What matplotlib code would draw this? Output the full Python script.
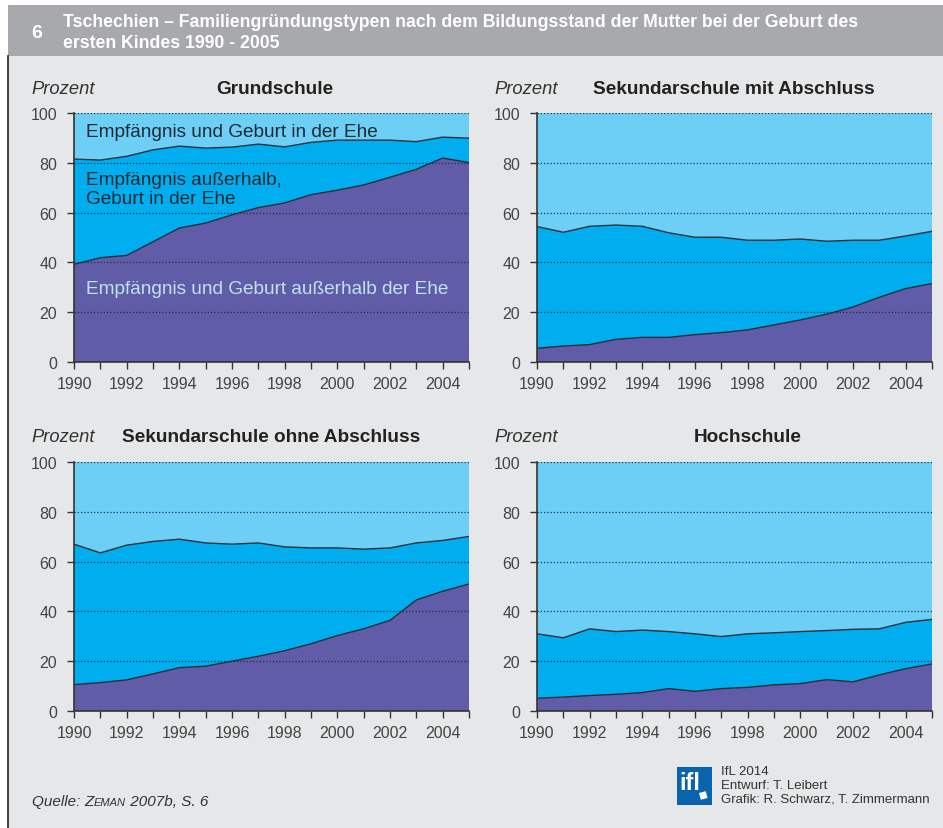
import matplotlib.pyplot as plt
import numpy as np
from matplotlib.patches import Rectangle

# Jahre
years = np.arange(1990, 2006)

# Anteile in Prozent: lila = Empfängnis und Geburt außerhalb der Ehe,
# mittelblau = Empfängnis außerhalb, Geburt in der Ehe, hellblau = in der Ehe
grund_aus = [39.2, 41.9, 42.8, 48.3, 53.8, 55.8, 59.1, 62.0, 63.9, 67.2, 69.0, 71.1, 74.2, 77.4, 81.9, 80.1]
grund_mit = [42.3, 39.2, 39.8, 36.9, 32.9, 30.1, 27.2, 25.5, 22.5, 21.0, 20.1, 18.0, 14.9, 11.1, 8.4, 9.8]
grund_ehe = [18.5, 18.9, 17.4, 14.8, 13.3, 14.1, 13.7, 12.5, 13.6, 11.8, 10.9, 10.9, 10.9, 11.5, 9.7, 10.1]

sekmit_aus = [5.5, 6.4, 7.0, 9.1, 9.9, 9.9, 11.0, 11.8, 12.9, 14.9, 16.9, 19.2, 22.1, 26.0, 29.5, 31.5]
sekmit_mit = [48.9, 45.7, 47.5, 45.9, 44.6, 42.0, 39.1, 38.3, 36.0, 34.0, 32.5, 29.3, 26.8, 22.9, 21.1, 21.0]
sekmit_ehe = [45.6, 47.9, 45.5, 45.0, 45.5, 48.1, 49.9, 49.9, 51.1, 51.1, 50.6, 51.5, 51.1, 51.1, 49.4, 47.5]

sekohne_aus = [10.6, 11.4, 12.5, 14.9, 17.4, 18.0, 20.0, 22.0, 24.2, 27.0, 30.3, 33.0, 36.4, 44.6, 48.1, 51.0]
sekohne_mit = [56.4, 52.1, 54.1, 53.2, 51.6, 49.5, 47.0, 45.5, 41.7, 38.5, 35.2, 32.0, 29.1, 22.9, 20.4, 19.1]
sekohne_ehe = [33.0, 36.5, 33.4, 31.9, 31.0, 32.5, 33.0, 32.5, 34.1, 34.5, 34.5, 35.0, 34.5, 32.5, 31.5, 29.9]

hoch_aus = [5.1, 5.6, 6.2, 6.7, 7.4, 9.0, 7.9, 9.0, 9.5, 10.5, 11.0, 12.6, 11.7, 14.5, 17.0, 18.9]
hoch_mit = [25.9, 23.8, 26.8, 25.2, 25.1, 22.9, 23.1, 20.9, 21.5, 20.9, 20.9, 19.7, 21.1, 18.5, 18.6, 17.9]
hoch_ehe = [69.0, 70.6, 67.0, 68.1, 67.5, 68.1, 69.0, 70.1, 69.0, 68.6, 68.1, 67.7, 67.2, 67.0, 64.4, 63.2]

titles = ["Grundschule", "Sekundarschule mit Abschluss",
          "Sekundarschule ohne Abschluss", "Hochschule"]
data = [(grund_aus, grund_mit, grund_ehe),
        (sekmit_aus, sekmit_mit, sekmit_ehe),
        (sekohne_aus, sekohne_mit, sekohne_ehe),
        (hoch_aus, hoch_mit, hoch_ehe)]

W, H = 943, 829
c_lila = "#605ca8"
c_mittel = "#00aeef"
c_hell = "#6dcff6"
c_bg = "#e6e7e8"
c_txt = "#333333"
sans = ["Liberation Sans", "DejaVu Sans"]

fig = plt.figure(figsize=(W / 100, H / 100), dpi=100)

# Hintergrund in Pixelkoordinaten
bg = fig.add_axes([0, 0, 1, 1])
bg.set_xlim(0, W)
bg.set_ylim(H, 0)
bg.axis("off")
bg.add_patch(Rectangle((8, 6), W - 8, 51, color="#a7a9ac", lw=0))
bg.add_patch(Rectangle((8, 57), W - 8, H - 57, color=c_bg, lw=0))
bg.plot([8, 8], [57, H], color="#222222", lw=1.2)

bg.text(37, 33, "6", color="white", fontsize=14, fontweight="bold",
        family=sans, ha="center", va="center")
bg.text(63, 22, "Tschechien – Familiengründungstypen nach dem Bildungsstand der Mutter bei der Geburt des",
        color="white", fontsize=12.7, fontweight="bold", family=sans, va="center")
bg.text(63, 43, "ersten Kindes 1990 - 2005",
        color="white", fontsize=12.7, fontweight="bold", family=sans, va="center")

# Achsen-Positionen in Pixeln: (links, rechts, oben, unten)
boxes = [(74, 469, 114, 363), (537, 932, 114, 363),
         (74, 469, 463, 712), (537, 932, 463, 712)]
title_pos = [(275, 89), (734, 89), (271, 438), (748, 438)]
prozent_pos = [(31, 89), (494, 89), (31, 438), (494, 438)]

for i, (l, r, t, b) in enumerate(boxes):
    ax = fig.add_axes([l / W, 1 - b / H, (r - l) / W, (b - t) / H])
    aus, mit, ehe = data[i]
    ax.stackplot(years, aus, mit, ehe, colors=[c_lila, c_mittel, c_hell], lw=0)
    aus = np.array(aus)
    ax.plot(years, aus, color="#2a2f3a", lw=1)
    ax.plot(years, aus + np.array(mit), color="#2a2f3a", lw=1)

    ax.set_xlim(1990, 2005)
    ax.set_ylim(0, 100)
    ax.set_facecolor("none")
    ax.set_xticks(np.arange(1990, 2005, 2))
    ax.set_xticks(np.arange(1990, 2006, 1), minor=True)
    ax.set_yticks(np.arange(0, 101, 20))
    ax.set_axisbelow(False)
    ax.grid(axis="y", color="#1f3348", lw=0.9, linestyle=(0, (1, 1.6)))
    for s in ["top", "right"]:
        ax.spines[s].set_visible(False)
    for s in ["left", "bottom"]:
        ax.spines[s].set_color(c_txt)
        ax.spines[s].set_linewidth(1.2)
        ax.spines[s].set_zorder(3)
    ax.tick_params(axis="both", which="both", direction="out", length=5,
                   width=1, color=c_txt, labelcolor="#444444", labelsize=11.5)
    ax.tick_params(axis="y", pad=7)
    ax.tick_params(axis="x", pad=5)
    for lab in ax.get_xticklabels() + ax.get_yticklabels():
        lab.set_family(sans)

    tx, ty = title_pos[i]
    bg.text(tx, ty, titles[i], fontsize=13.7, fontweight="bold", color="#222222",
            family=sans, ha="center", va="center")
    px, py = prozent_pos[i]
    bg.text(px, py, "Prozent", fontsize=13.2, style="italic", color="#333333",
            family=sans, va="center")

# Ebene über den Diagrammen für die Flächenbeschriftung
fg = fig.add_axes([0, 0, 1, 1])
fg.set_xlim(0, W)
fg.set_ylim(H, 0)
fg.axis("off")
fg.text(86, 132, "Empfängnis und Geburt in der Ehe", fontsize=13.7,
        color="#1e2a33", family=sans, va="center")
fg.text(86, 180, "Empfängnis außerhalb,", fontsize=13.7,
        color="#1e2a33", family=sans, va="center")
fg.text(86, 199, "Geburt in der Ehe", fontsize=13.7,
        color="#1e2a33", family=sans, va="center")
fg.text(86, 289, "Empfängnis und Geburt außerhalb der Ehe", fontsize=13.7,
        color="#bfe4f8", family=sans, va="center")

# Quelle, Zeman in Kapitälchen
t1 = fg.text(32, 806, "Quelle: ", fontsize=11, style="italic", color="#333333",
             family=sans, va="baseline")
t2 = fg.annotate("Z", xy=(1, 0), xycoords=t1, fontsize=11, style="italic",
                 color="#333333", family=sans, va="bottom")
t3 = fg.annotate("EMAN", xy=(1, 0), xycoords=t2, fontsize=8, style="italic",
                 color="#333333", family=sans, va="bottom", xytext=(0, 0.6),
                 textcoords="offset points")
fg.annotate(" 2007b, S. 6", xy=(1, 0), xycoords=t3, fontsize=11, style="italic",
            color="#333333", family=sans, va="bottom", xytext=(0, -0.6),
            textcoords="offset points")

# IfL-Logo und Impressum
fg.add_patch(Rectangle((677, 768), 35, 38, color="#0a63ad", lw=0))
fg.text(679, 784, "ifl", color="white", fontsize=17, fontweight="bold",
        family=sans, va="center")
fg.add_patch(Rectangle((699, 794), 7, 7, color="white", lw=0, angle=-15))
for k, line in enumerate(["IfL 2014", "Entwurf: T. Leibert",
                          "Grafik: R. Schwarz, T. Zimmermann"]):
    fg.text(721, 772 + 14 * k, line, fontsize=9.5, color="#333333",
            family=sans, va="center")

fig.savefig("out.png", dpi=100)
